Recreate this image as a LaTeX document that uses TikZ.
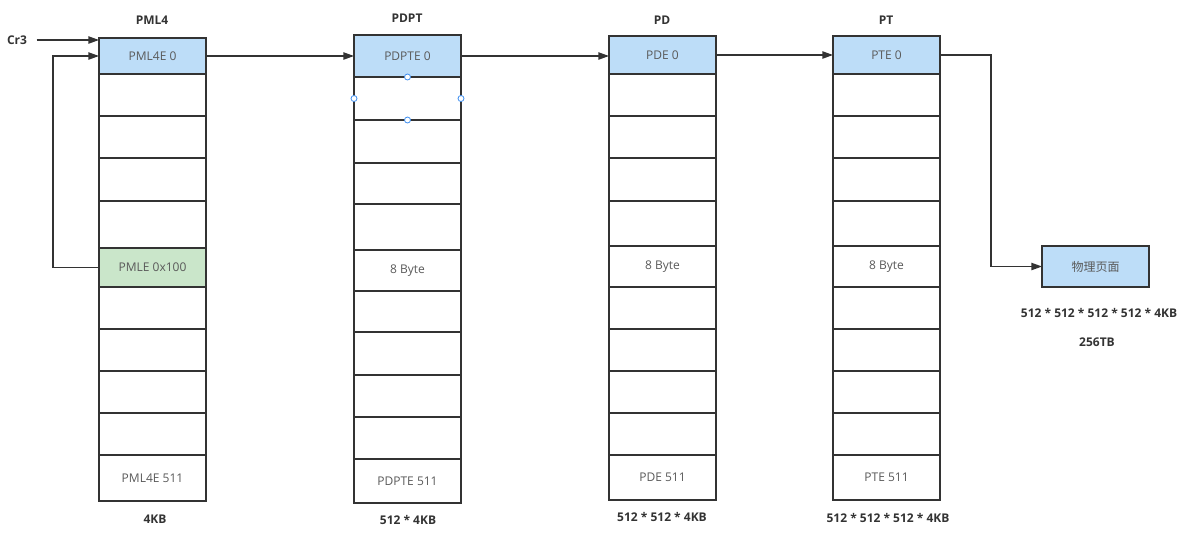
\documentclass[tikz,border=0pt]{standalone}
\usepackage{fontspec}
\setmainfont{Open Sans}
\newfontfamily\cjk{Noto Sans CJK SC}
\usetikzlibrary{arrows.meta}
\definecolor{bord}{HTML}{333333}
\definecolor{txt}{HTML}{5A5A5A}
\definecolor{ttl}{HTML}{333333}
\definecolor{blu}{HTML}{BDDDF8}
\definecolor{grn}{HTML}{CAE6CA}
\definecolor{hdl}{HTML}{3E8EF0}
\newcommand\tablecolumn[4]{%
  \foreach \t/\b/\c/\x [count=\k] in {#4} {
    \node[cell, fill=\c, minimum width={(#3-#2)*0.75pt}, minimum height={(\b-\t)*0.75pt}]
      (#1\k) at ({(#2+#3)/2},{(\t+\b)/2}) {\x};
  }}
\begin{document}
\begin{tikzpicture}[x=0.75pt,y=-0.75pt,
  cell/.style={draw=bord, line width=1.2pt, inner sep=0pt, outer sep=0pt,
    font=\fontsize{9}{11}\selectfont, text=txt},
  ttlbl/.style={font=\bfseries\fontsize{9}{11}\selectfont, text=ttl, inner sep=1pt},
  conn/.style={draw=bord, line width=1pt, -{Triangle[length=8pt,width=5.5pt]}},
  handle/.style={circle, draw=hdl, fill=white, line width=0.6pt, minimum size=4.5pt, inner sep=0pt}]
\useasboundingbox (0,0) rectangle (1195,540);

\tablecolumn{pml}{99}{206}{38/74/blu/PML4E 0, 74/116/white/{}, 116/158/white/{}, 158/201/white/{}, 201/248/white/{}, 248/287/grn/PMLE 0x100, 287/329/white/{}, 329/371/white/{}, 371/413/white/{}, 413/455/white/{}, 455/501/white/PML4E 511}
\tablecolumn{pdpt}{354}{461}{35/77/blu/PDPTE 0, 77/120/white/{}, 120/163/white/{}, 163/204/white/{}, 204/250/white/{}, 250/291/white/8 Byte, 291/332/white/{}, 332/375/white/{}, 375/417/white/{}, 417/459/white/{}, 459/503/white/PDPTE 511}
\tablecolumn{pd}{609}{716}{36/74/blu/PDE 0, 74/116/white/{}, 116/158/white/{}, 158/201/white/{}, 201/246/white/{}, 246/287/white/8 Byte, 287/329/white/{}, 329/371/white/{}, 371/413/white/{}, 413/455/white/{}, 455/500/white/PDE 511}
\tablecolumn{pt}{833}{940}{36/74/blu/PTE 0, 74/116/white/{}, 116/158/white/{}, 158/201/white/{}, 201/246/white/{}, 246/287/white/8 Byte, 287/329/white/{}, 329/371/white/{}, 371/413/white/{}, 413/455/white/{}, 455/500/white/PTE 511}

\node[cell, fill=blu, minimum width={107*0.75pt}, minimum height={41*0.75pt}] (phys) at (1095.5,266.5) {\cjk 物理页面};

% titles
\node[ttlbl] (t1) at (152,20) {PML4};
\node[ttlbl] (t2) at (407,18) {PDPT};
\node[ttlbl] (t3) at (662,20) {PD};
\node[ttlbl] (t4) at (886,20) {PT};
% sizes
\node[ttlbl] (s1) at (155,519) {4KB};
\node[ttlbl] (s2) at (408,520) {512 * 4KB};
\node[ttlbl] (s3) at (662,517) {512 * 512 * 4KB};
\node[ttlbl] (s4) at (888,518) {512 * 512 * 512 * 4KB};
\node[ttlbl] (s5) at (1099,313) {512 * 512 * 512 * 512 * 4KB};
\node[ttlbl] (s6) at (1097,342) {256TB};
\node[ttlbl] (cr3) at (17,40) {Cr3};

% connectors
\draw[conn] ([xshift=6pt]cr3.east) -- (cr3.east -| pml1.west);
\draw[conn] (pml6.west) -- ++(-46,0) |- (pml1.west);
\draw[conn] (pml1.east) -- (pml1.east -| pdpt1.west);
\draw[conn] (pdpt1.east) -- (pdpt1.east -| pd1.west);
\draw[conn] (pd1.east) -- (pd1.east -| pt1.west);
\draw[conn] (pt1.east) -- ++(51,0) |- (phys.west);

% selection handles
\node[handle] (h1) at (pdpt2.north) {};
\node[handle] (h2) at (pdpt2.south) {};
\node[handle] (h3) at (pdpt2.west) {};
\node[handle] (h4) at (pdpt2.east) {};
\end{tikzpicture}
\end{document}
